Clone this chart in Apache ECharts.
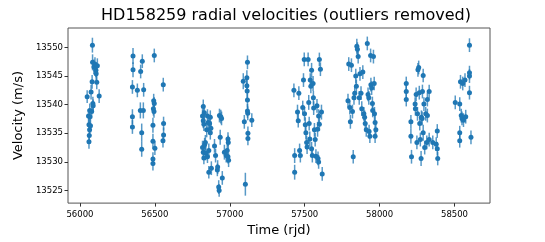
<!DOCTYPE html>
<html>
<head>
<meta charset="utf-8">
<script src="https://cdn.jsdelivr.net/npm/echarts@6/dist/echarts.min.js"></script>
<style>
html,body{margin:0;padding:0;background:#fff;}
#chart{width:545px;height:242px;}
</style>
</head>
<body>
<div id="chart"></div>
<script>
// Each entry: [time (rjd), velocity (m/s), error (m/s)]
const season2012 = [[56048,13541.4,1.1],[56057,13538.0,1.2],[56060,13536.5,1.1],[56060,13533.5,1.2],[56062,13534.6,1.1],[56064,13535.6,1.2],[56065,13539.0,1.2],[56066,13537.9,1.1],[56070,13536.3,1.2],[56074,13542.2,1.3],[56078,13538.8,1.2],[56081,13544.0,1.2],[56083,13550.4,1.3],[56084,13547.4,1.4],[56086,13540.2,1.2],[56088,13539.8,1.1],[56093,13546.6,1.3],[56100,13547.1,1.2],[56106,13546.0,1.2],[56108,13545.4,1.1],[56112,13543.9,1.2],[56116,13546.8,1.3],[56128,13541.5,1.2]];
const season2013 = [[56354,13548.5,1.4],[56496,13548.6,1.2],[56416,13547.6,1.2],[56354,13546.1,1.3],[56405,13545.8,1.2],[56556,13543.5,1.2],[56350,13543.1,1.2],[56383,13542.5,1.2],[56425,13542.6,1.2],[56492,13540.7,1.2],[56496,13540.2,1.1],[56490,13539.3,1.2],[56494,13538.8,1.1],[56403,13539.0,1.4],[56423,13539.0,1.4],[56350,13537.9,1.3],[56558,13536.7,1.2],[56487,13536.4,1.3],[56350,13536.1,1.2],[56412,13535.1,1.6],[56558,13534.7,1.3],[56487,13533.6,1.3],[56554,13533.7,1.2],[56500,13532.4,1.2],[56412,13532.2,1.3],[56487,13530.5,1.2],[56487,13529.7,1.2]];
const season2014 = [[56818,13538.0,1.2],[56818,13532.5,1.2],[56823,13539.7,1.2],[56823,13537.2,1.3],[56823,13531.7,1.2],[56827,13536.6,1.2],[56827,13530.7,1.1],[56830,13538.6,1.4],[56832,13533.0,1.2],[56837,13533.4,1.3],[56840,13531.5,1.2],[56846,13535.6,1.3],[56851,13538.0,1.2],[56851,13530.9,1.1],[56856,13536.9,1.2],[56860,13532.0,1.2],[56860,13528.2,1.1],[56865,13536.7,1.3],[56870,13537.8,1.2],[56870,13535.1,1.2],[56874,13535.9,1.2],[56877,13528.9,1.2],[56898,13532.8,1.2],[56905,13531.1,1.2],[56917,13528.6,1.1],[56919,13529.1,1.2],[56926,13525.6,1.2],[56929,13525.0,1.1],[56931,13538.1,1.2],[56936,13534.3,1.3],[56940,13537.9,1.2],[56945,13537.6,1.2],[56950,13527.2,1.2],[56964,13531.7,1.3],[56976,13531.1,1.2],[56983,13532.0,1.2],[56988,13534.0,1.2],[56988,13530.9,1.2],[56990,13533.4,1.2],[56992,13530.3,1.2]];
const season2015 = [[57090,13544.1,1.4],[57097,13537.0,1.2],[57104,13526.1,2.0],[57114,13544.7,1.3],[57114,13543.3,1.2],[57116,13542.4,1.3],[57118,13547.4,1.2],[57118,13540.8,1.3],[57118,13538.9,1.2],[57120,13538.5,1.2],[57121,13535.0,1.2],[57121,13534.1,1.2],[57147,13537.3,1.2]];
const season2016 = [[57428,13542.5,1.2],[57433,13531.1,1.3],[57433,13528.2,1.3],[57452,13538.7,1.3],[57457,13537.2,1.2],[57461,13542.0,1.2],[57466,13532.0,1.2],[57471,13531.1,1.2],[57487,13539.5,1.2],[57492,13544.3,1.2],[57497,13547.9,1.2],[57499,13538.4,1.2],[57504,13536.5,1.3],[57508,13535.1,1.2],[57513,13533.4,1.2],[57516,13532.6,1.2],[57523,13547.9,1.2],[57527,13540.4,1.3],[57530,13536.7,1.2],[57534,13534.0,1.3],[57537,13544.3,1.2],[57541,13543.2,1.2],[57546,13546.0,1.3],[57546,13532.3,1.2],[57551,13531.1,1.2],[57556,13543.7,1.3],[57558,13541.2,1.2],[57560,13539.4,1.2],[57565,13535.6,1.2],[57570,13533.9,1.2],[57575,13531.0,1.2],[57582,13539.8,1.2],[57586,13535.7,1.3],[57589,13530.6,1.2],[57593,13538.0,1.2],[57593,13530.0,1.2],[57598,13536.6,1.2],[57598,13547.9,1.2],[57605,13546.2,1.2],[57612,13538.7,1.3],[57617,13527.9,1.2]];
const season2017 = [[57789,13540.7,1.2],[57794,13547.1,1.2],[57801,13539.5,1.2],[57805,13537.0,1.2],[57812,13546.9,1.2],[57819,13538.8,1.2],[57824,13530.9,1.2],[57829,13541.2,1.2],[57834,13542.0,1.2],[57841,13545.0,1.3],[57845,13543.2,1.2],[57848,13550.2,1.3],[57852,13549.7,1.2],[57857,13548.4,1.2],[57864,13541.2,1.2],[57869,13545.4,1.2],[57876,13542.0,1.2],[57881,13539.3,1.3],[57888,13545.7,1.2],[57895,13538.4,1.2],[57900,13537.8,1.2],[57904,13536.7,1.2],[57911,13535.6,1.2],[57918,13550.7,1.2],[57923,13541.8,1.2],[57928,13541.2,1.2],[57930,13535.3,1.2],[57935,13534.5,1.2],[57940,13548.6,1.2],[57942,13543.5,1.2],[57947,13542.9,1.2],[57952,13540.2,1.2],[57954,13539.0,1.2],[57959,13548.4,1.2],[57964,13543.7,1.2],[57966,13538.4,1.2],[57970,13536.9,1.2],[57970,13534.5,1.2],[57975,13535.6,1.2]];
const season2018 = [[58178,13543.7,1.2],[58178,13542.3,1.2],[58178,13540.9,1.2],[58209,13537.0,1.2],[58209,13534.5,1.3],[58213,13530.9,1.2],[58237,13540.1,1.2],[58239,13539.3,1.2],[58244,13541.8,1.2],[58249,13533.4,1.2],[58253,13538.4,1.2],[58256,13546.1,1.2],[58261,13546.5,1.2],[58265,13542.1,1.2],[58268,13536.7,1.2],[58272,13533.9,1.2],[58277,13530.6,1.3],[58279,13537.8,1.2],[58284,13537.6,1.2],[58286,13542.3,1.2],[58291,13545.1,1.2],[58291,13535.1,1.4],[58296,13540.1,1.2],[58301,13532.5,1.2],[58308,13538.4,1.2],[58315,13533.4,1.2],[58319,13540.9,1.2],[58319,13538.1,1.2],[58331,13533.9,1.2],[58331,13542.3,1.2],[58355,13533.4,1.2],[58378,13533.1,1.2],[58385,13535.4,1.2],[58385,13532.3,1.2],[58388,13530.6,1.2]];
const season2019 = [[58505,13540.4,1.2],[58535,13540.1,1.2],[58535,13535.1,1.2],[58535,13533.7,1.2],[58540,13544.0,1.2],[58545,13538.1,1.2],[58550,13537.6,1.2],[58555,13543.7,1.2],[58560,13537.3,1.2],[58570,13544.3,1.2],[58575,13537.9,1.2],[58600,13550.4,1.2],[58600,13545.6,1.2],[58600,13545.0,1.2],[58600,13542.1,1.2],[58610,13534.3,1.2]];

const xTicks = [56000, 56500, 57000, 57500, 58000, 58500];
const yTicks = [13525, 13530, 13535, 13540, 13545, 13550];

const titleText = 'HD158259 radial velocities (outliers removed)';
const xName = 'Time (rjd)';
const yName = 'Velocity (m/s)';

const points = [].concat(season2012, season2013, season2014, season2015, season2016, season2017, season2018, season2019);
const color = '#1f77b4';
const font = 'DejaVu Sans';
const plain = v => String(v);

const chart = echarts.init(document.getElementById('chart'), null, {renderer: 'canvas'});
chart.setOption({
  animation: false,
  backgroundColor: '#fff',
  title: {
    text: titleText,
    left: 281, top: 3, textAlign: 'center',
    textStyle: {fontFamily: font, fontSize: 16, fontWeight: 'normal', color: '#000'}
  },
  grid: {left: 68, right: 55, top: 28, bottom: 32, show: true, borderColor: '#555', borderWidth: 1, backgroundColor: 'transparent'},
  xAxis: {
    type: 'value', min: 55920, max: 58737,
    name: xName, nameLocation: 'middle', nameGap: 18,
    nameTextStyle: {fontFamily: font, fontSize: 13, color: '#000'},
    axisLine: {show: false},
    splitLine: {show: false},
    axisTick: {show: true, inside: false, length: 3.5, customValues: xTicks, lineStyle: {color: '#333', width: 1}},
    axisLabel: {customValues: xTicks, formatter: plain, fontFamily: font, fontSize: 8.5, color: '#000', margin: 7}
  },
  yAxis: {
    type: 'value', min: 13522.8, max: 13553.4,
    name: yName, nameLocation: 'middle', nameGap: 28,
    nameTextStyle: {fontFamily: font, fontSize: 13, color: '#000'},
    axisLine: {show: false},
    splitLine: {show: false},
    axisTick: {show: true, inside: false, length: 3.5, customValues: yTicks, lineStyle: {color: '#333', width: 1}},
    axisLabel: {customValues: yTicks, formatter: plain, fontFamily: font, fontSize: 8.5, color: '#000', margin: 5}
  },
  series: [
    {
      type: 'custom',
      data: points,
      encode: {x: 0, y: 1},
      z: 1,
      renderItem: function (params, api) {
        const x = api.value(0), y = api.value(1), e = api.value(2);
        const p1 = api.coord([x, y - e]);
        const p2 = api.coord([x, y + e]);
        return {
          type: 'line',
          shape: {x1: p1[0], y1: p1[1], x2: p2[0], y2: p2[1]},
          style: {stroke: color, lineWidth: 1.5, opacity: 0.75}
        };
      }
    },
    {
      type: 'scatter',
      data: points.map(p => [p[0], p[1]]),
      symbol: 'circle',
      symbolSize: 5,
      z: 2,
      itemStyle: {color: color, opacity: 1}
    }
  ]
});
</script>
</body>
</html>
